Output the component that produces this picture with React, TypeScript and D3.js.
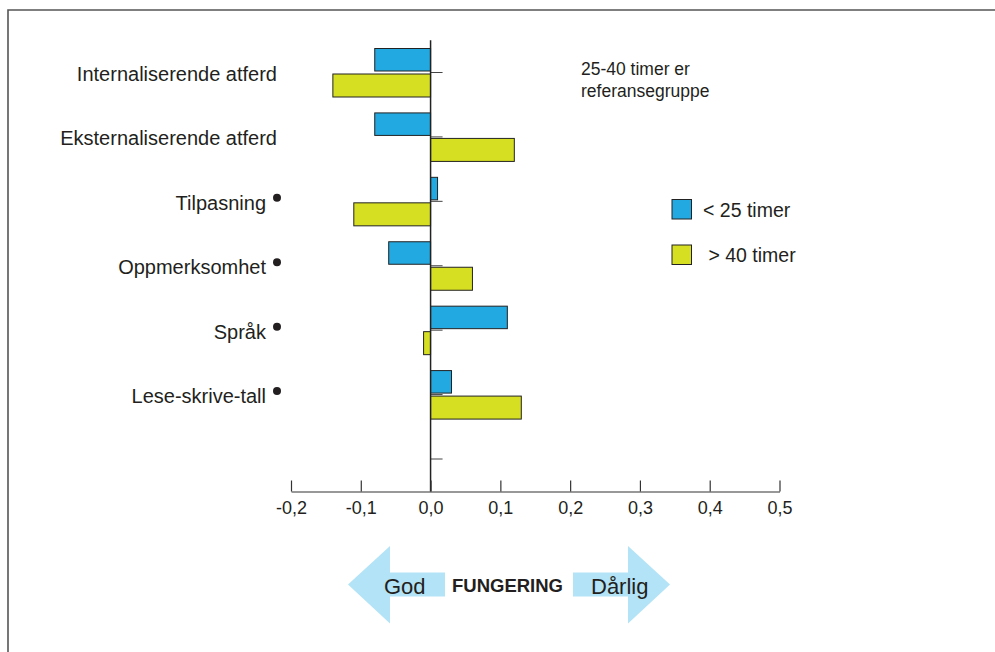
import { useEffect, useRef } from "react"
import * as d3 from "d3"

// categories (top to bottom), bullet = marked with a dot
const categories = ["Internaliserende atferd", "Eksternaliserende atferd", "Tilpasning", "Oppmerksomhet", "Språk", "Lese-skrive-tall"]
const marked = [false, false, true, true, true, true]

// deviation from reference group (25-40 timer)
const under25 = [-0.08, -0.08, 0.01, -0.06, 0.11, 0.03]
const over40 = [-0.14, 0.12, -0.11, 0.06, -0.01, 0.13]

const xTicks = [-0.2, -0.1, 0.0, 0.1, 0.2, 0.3, 0.4, 0.5]
const seriesNames = ["< 25 timer", " > 40 timer"]
const noteLines = ["25-40 timer er", "referansegruppe"]

const BLUE = "#23a9e1"
const YELLOW = "#d7df23"
const ARROW = "#b3e3f6"
const FONT = "'Liberation Sans', Arial, sans-serif"

export default function App() {
    const ref = useRef<SVGSVGElement | null>(null)

    useEffect(() => {
        const svg = d3.select(ref.current)
        svg.selectAll("*").remove()
        buildGraph(svg)
    }, [])

    function buildGraph(svg: any, {
        width = 995,
        height = 652,
        axisY = 491.5,
    } = {}) {
        const x = d3.scaleLinear()
            .domain([-0.2, 0.5])
            .range([291, 779.5])

        // one extra empty slot at the bottom (there is a tick there)
        const keys = [...categories, "__blank"]
        const y = d3.scalePoint()
            .domain(keys)
            .range([72.5, 459])
        const step = y.step()

        const fmt = d3.formatLocale({ decimal: ",", thousands: " ", grouping: [3], currency: ["", ""], minus: "-" }).format(".1f")

        svg.attr("width", width).attr("height", height)
            .attr("font-family", FONT)

        // frame
        svg.append("path")
            .attr("d", `M8,652 V10 H995`)
            .attr("fill", "none")
            .attr("stroke", "#555")
            .attr("stroke-width", 1.6)

        // bars
        const rows = categories.map((c, i) => ({ name: c, a: under25[i], b: over40[i], dot: marked[i] }))

        svg.append("g")
            .selectAll("rect")
            .data(rows)
            .join("rect")
                .attr("x", (d: any) => Math.min(x(d.a), x(0)))
                .attr("width", (d: any) => Math.abs(x(d.a) - x(0)))
                .attr("y", (d: any) => y(d.name)! - 24)
                .attr("height", 22.5)
                .attr("fill", BLUE)
                .attr("stroke", "#222")
                .attr("stroke-width", 1)

        svg.append("g")
            .selectAll("rect")
            .data(rows)
            .join("rect")
                .attr("x", (d: any) => Math.min(x(d.b), x(0)))
                .attr("width", (d: any) => Math.abs(x(d.b) - x(0)))
                .attr("y", (d: any) => y(d.name)! + 1.5)
                .attr("height", 23)
                .attr("fill", YELLOW)
                .attr("stroke", "#222")
                .attr("stroke-width", 1)

        // small category ticks right of zero line
        svg.append("g")
            .selectAll("line")
            .data(keys)
            .join("line")
                .attr("x1", x(0))
                .attr("x2", x(0) + 12)
                .attr("y1", (d: string) => y(d)!)
                .attr("y2", (d: string) => y(d)!)
                .attr("stroke", "#444")
                .attr("stroke-width", 1)

        // zero line
        svg.append("line")
            .attr("x1", x(0)).attr("x2", x(0))
            .attr("y1", y(keys[0])! - step / 2)
            .attr("y2", axisY)
            .attr("stroke", "#222")
            .attr("stroke-width", 1.5)

        // category labels
        const labels = svg.append("g")
            .attr("font-size", 20)
            .attr("fill", "#231f20")
            .attr("text-anchor", "end")
        labels.selectAll("text")
            .data(rows)
            .join("text")
                .attr("x", (d: any) => d.dot ? 266 : 277)
                .attr("y", (d: any) => y(d.name)! + 8.5)
                .text((d: any) => d.name)
        labels.selectAll("circle")
            .data(rows.filter(d => d.dot))
            .join("circle")
                .attr("cx", 277)
                .attr("cy", (d: any) => y(d.name)! - 3.5)
                .attr("r", 4)
                .attr("fill", "#231f20")

        // x axis
        svg.append("g")
                .attr("transform", `translate(0,${axisY})`)
            .call(d3.axisBottom(x).tickValues(xTicks).tickFormat((d: any) => fmt(d)).tickSizeInner(-11).tickSizeOuter(0).tickPadding(10))
            .call((g: any) => g.select(".domain").attr("stroke", "#333").attr("stroke-width", 1.2))
            .call((g: any) => g.selectAll(".tick line").attr("stroke", "#333").attr("stroke-width", 1.2))
            .call((g: any) => g.selectAll(".tick text").attr("font-size", 18).attr("font-family", FONT).attr("fill", "#231f20"))

        // note
        svg.append("g")
                .attr("font-size", 17.5)
                .attr("fill", "#231f20")
            .selectAll("text")
            .data(noteLines)
            .join("text")
                .attr("x", 581)
                .attr("y", (_: any, i: number) => 75 + i * 21.5)
                .text((d: string) => d)

        // legend
        const legend = svg.append("g")
        const lColors = [BLUE, YELLOW]
        legend.selectAll("rect")
            .data(seriesNames)
            .join("rect")
                .attr("x", 672)
                .attr("y", (_: any, i: number) => 199.5 + i * 45.5)
                .attr("width", 19.5)
                .attr("height", 19.5)
                .attr("fill", (_: any, i: number) => lColors[i])
                .attr("stroke", "#222")
                .attr("stroke-width", 1)
        legend.selectAll("text")
            .data(seriesNames)
            .join("text")
                .attr("x", 703)
                .attr("y", (_: any, i: number) => 216.5 + i * 45.5)
                .attr("font-size", 19.5)
                .attr("fill", "#231f20")
                .attr("xml:space", "preserve")
                .style("white-space", "pre")
                .text((d: string) => d)

        // FUNGERING arrows
        const arrows = svg.append("g").attr("fill", ARROW)
        arrows.append("path")
            .attr("d", "M348,584.5 L390,546 L390,572.5 L445,572.5 L445,596.5 L390,596.5 L390,623.5 Z")
        arrows.append("path")
            .attr("d", "M670,584.5 L628,546 L628,572.5 L573,572.5 L573,596.5 L628,596.5 L628,623.5 Z")

        svg.append("text")
            .attr("x", 384).attr("y", 594)
            .attr("font-size", 22)
            .attr("fill", "#231f20")
            .text("God")
        svg.append("text")
            .attr("x", 591).attr("y", 594)
            .attr("font-size", 22)
            .attr("fill", "#231f20")
            .text("Dårlig")
        svg.append("text")
            .attr("x", 507.5).attr("y", 591.5)
            .attr("text-anchor", "middle")
            .attr("font-size", 18.5)
            .attr("font-weight", "bold")
            .attr("fill", "#231f20")
            .text("FUNGERING")
    }

    return (
        <div style={{ position: "absolute", left: 0, top: 0 }}>
            <svg ref={ref} style={{ display: "block" }} />
        </div>
    )
}
